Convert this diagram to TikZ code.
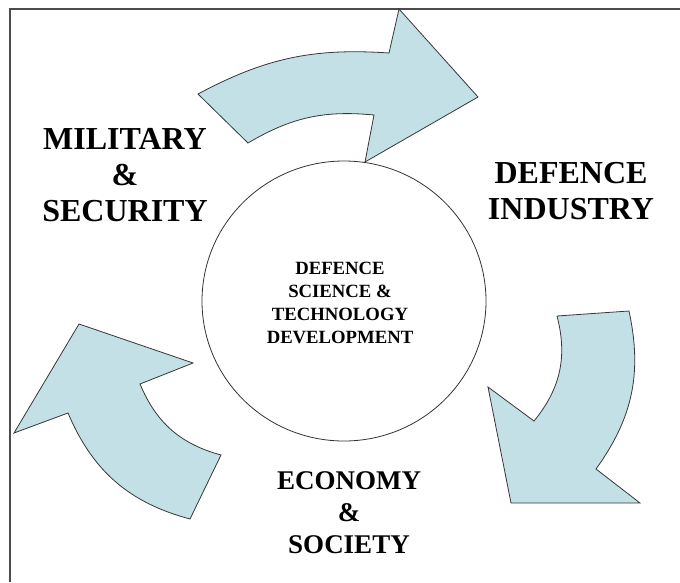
\documentclass[tikz,border=0pt]{standalone}
\usepackage{fontspec}
\setmainfont{Liberation Serif}
\definecolor{flowfill}{RGB}{194,224,229}
\definecolor{flowline}{RGB}{55,55,55}

\begin{document}
\begin{tikzpicture}[x=1pt,y=-1pt,
    flow/.style={draw=flowline,fill=flowfill,line width=0.8pt,line join=miter},
    biglabel/.style={align=center,font=\fontsize{32}{36}\selectfont\bfseries},
    midlabel/.style={align=center,font=\fontsize{27}{32}\selectfont\bfseries},
    corelabel/.style={align=center,font=\fontsize{18.7}{23}\selectfont\bfseries}]

\useasboundingbox (0,0) rectangle (680,582);

% page frame, open at right and bottom
\draw[gray!60!black,line width=1.2pt] (10,582) -- (10,9) -- (680,9);

% top arrow coordinates
\coordinate (top) at (198,94);
\coordinate (top-in) at (248,143);
\coordinate (topA) at (389,53);
\coordinate (topB) at (399,9);
\coordinate (topC) at (478,97);
\coordinate (topD) at (365,162);
\coordinate (topE) at (374,115);

% right arrow coordinates
\coordinate (right) at (629,311);
\coordinate (right-in) at (557,316);
\coordinate (rightA) at (596,469);
\coordinate (rightB) at (640,503);
\coordinate (rightC) at (511,503);
\coordinate (rightD) at (488,387);
\coordinate (rightE) at (534,421);

% left arrow coordinates
\coordinate (left) at (190,519);
\coordinate (left-in) at (221,455);
\coordinate (leftA) at (68,413);
\coordinate (leftB) at (14,433);
\coordinate (leftC) at (79,324);
\coordinate (leftD) at (193,363);
\coordinate (leftE) at (140,384);

\draw[flow] (top) to[bend left=16] (topA) -- (topB) -- (topC) -- (topD) -- (topE)
    to[bend right=18] (top-in) -- cycle;
\draw[flow] (right) to[bend left=24] (rightA) -- (rightB) -- (rightC) -- (rightD) -- (rightE)
    to[bend right=27] (right-in) -- cycle;
\draw[flow] (left) to[bend left=26] (leftA) -- (leftB) -- (leftC) -- (leftD) -- (leftE)
    to[bend right=26] (left-in) -- cycle;

% centre circle
\draw[black!80,line width=0.8pt] (344,301) ellipse (142 and 140);
\node[corelabel] (core) at (340,302.5) {DEFENCE\\SCIENCE \&\\TECHNOLOGY\\DEVELOPMENT};

\node[biglabel] (military) at (125,175) {MILITARY\\\&\\SECURITY};
\node[biglabel] (industry) at (571,191.5) {DEFENCE\\INDUSTRY};
\node[midlabel] (economy) at (349,513) {ECONOMY\\\&\\SOCIETY};

\end{tikzpicture}
\end{document}
